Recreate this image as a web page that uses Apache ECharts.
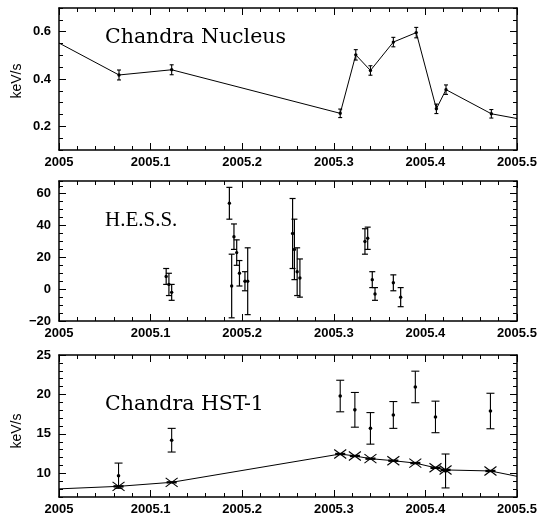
<!DOCTYPE html>
<html>
<head>
<meta charset="utf-8">
<script src="https://cdn.jsdelivr.net/npm/echarts@6/dist/echarts.min.js"></script>
<style>html,body{margin:0;padding:0;background:#fff}#c{width:540px;height:516px}</style>
</head>
<body>
<div id="c"></div>
<script>
// ---------------- DATA ----------------
const xTicksRange = [2005, 2005.5];

// Chandra nucleus (keV/s)
const nucleusTime = [2005.0655, 2005.123, 2005.307, 2005.324, 2005.340, 2005.365, 2005.390, 2005.412, 2005.4225, 2005.472];
const nucleusRate = [0.417, 0.439, 0.255, 0.502, 0.436, 0.556, 0.596, 0.274, 0.355, 0.253];
const nucleusErr  = [0.021, 0.021, 0.018, 0.022, 0.020, 0.020, 0.022, 0.020, 0.020, 0.018];
const nucleusLineStart = [2005.0, 0.552];
const nucleusLineEnd   = [2005.5, 0.233];

// H.E.S.S. fluxes
const hessTime = [2005.117, 2005.120, 2005.123, 2005.186, 2005.1885, 2005.191, 2005.194, 2005.197, 2005.203, 2005.206,
                  2005.255, 2005.257, 2005.260, 2005.263, 2005.334, 2005.337, 2005.342, 2005.345, 2005.365, 2005.373];
const hessFlux = [8, 3, -2, 54, 2, 33, 23, 10, 5, 5, 35, 25, 11, 7, 30, 32, 6, -3, 4, -5];
const hessErr  = [5, 7, 5, 10, 20, 8, 8, 8, 6, 21, 22, 19, 15, 12, 8, 7, 5, 4, 5, 6];

// Chandra HST-1 (keV/s)
const hst1Time = [2005.065, 2005.123, 2005.307, 2005.323, 2005.340, 2005.365, 2005.389, 2005.411, 2005.422, 2005.471];
const hst1Rate = [9.7, 14.2, 19.8, 18.05, 15.7, 17.4, 20.95, 17.15, 10.3, 17.9];
const hst1Err  = [1.6, 1.5, 2.0, 2.2, 2.0, 1.7, 2.0, 2.0, 2.15, 2.25];

// HST-1 lower (X-marked) series
const modelTime = [2005.065, 2005.123, 2005.307, 2005.323, 2005.340, 2005.365, 2005.389, 2005.411, 2005.422, 2005.471];
const modelRate = [8.35, 8.86, 12.45, 12.2, 11.86, 11.6, 11.3, 10.7, 10.43, 10.3];
const modelTimeErr = 0.0055;
const modelLineStart = [2005.0, 8.03];
const modelLineEnd   = [2005.5, 9.62];

// Tick values
const xMajorStep = 0.1, xMinorSplit = 5;
const topY = {min: 0.1, max: 0.7, minor: 0.05, major: [0.2, 0.4, 0.6]};
const midY = {min: -20, max: 68, minor: 5, major: [-20, 0, 20, 40, 60]};
const botY = {min: 7, max: 25, minor: 1, major: [10, 15, 20, 25]};

// ---------------- CHART ----------------
const chart = echarts.init(document.getElementById('c'), null, {renderer: 'canvas'});
const BLACK = '#000';
const labelFont = {fontFamily: '"Liberation Sans", Arial, sans-serif', fontSize: 13, fontWeight: 'bold', color: BLACK};

const grids = [
  {left: 59, right: 23, top: 8, height: 142},
  {left: 59, right: 23, top: 181, height: 140},
  {left: 59, right: 23, top: 355, height: 142}
];

function fmtYear(v) {
  const s = (Math.round(v * 10) / 10).toFixed(1);
  return s.endsWith('.0') ? s.slice(0, -2) : s;
}

const xAxis = [];
grids.forEach((g, gi) => {
  ['bottom', 'top'].forEach(pos => {
    xAxis.push({
      type: 'value', gridIndex: gi, position: pos,
      min: xTicksRange[0], max: xTicksRange[1], interval: xMajorStep,
      axisLine: {show: true, onZero: false, lineStyle: {color: BLACK, width: 1.5}},
      axisTick: {show: true, inside: true, length: 7, lineStyle: {color: BLACK, width: 1}},
      minorTick: {show: true, splitNumber: xMinorSplit, length: 4, lineStyle: {color: BLACK, width: 1}},
      splitLine: {show: false}, minorSplitLine: {show: false},
      axisLabel: Object.assign({show: pos === 'bottom', margin: 6, formatter: fmtYear}, labelFont)
    });
  });
});

const yAxis = [];
const ySpecs = [topY, midY, botY];
function isMajor(v, spec) {
  return spec.major.some(m => Math.abs(m - v) < 1e-6);
}
function fmtY(v, gi) {
  if (!isMajor(v, ySpecs[gi])) return '';
  let s = gi === 0 ? v.toFixed(1) : String(Math.round(v));
  return s.replace('-', '\u2212');
}
// per grid: [left main, left major overlay, right main, right major overlay]
ySpecs.forEach((spec, gi) => {
  ['left', 'right'].forEach(pos => {
    yAxis.push({
      type: 'value', gridIndex: gi, position: pos,
      min: spec.min, max: spec.max, interval: spec.minor,
      axisLine: {show: true, onZero: false, lineStyle: {color: BLACK, width: 1.5}},
      axisTick: {show: true, inside: true, length: 4, lineStyle: {color: BLACK, width: 1}},
      splitLine: {show: false},
      axisLabel: Object.assign({show: pos === 'left', margin: 8, formatter: v => fmtY(v, gi)}, labelFont)
    });
    yAxis.push({
      type: 'value', gridIndex: gi, position: pos,
      min: spec.min, max: spec.max, interval: spec.minor,
      axisLine: {show: false},
      axisTick: {show: true, inside: true, length: 7, customValues: spec.major, lineStyle: {color: BLACK, width: 1}},
      splitLine: {show: false},
      axisLabel: {show: false}
    });
  });
});

function errBarRender(capHalf, dotR, lw) {
  return function (params, api) {
    const x = api.value(0), y = api.value(1), e = api.value(2);
    const c = api.coord([x, y]);
    const t = api.coord([x, y + e]);
    const b = api.coord([x, y - e]);
    const st = {stroke: BLACK, lineWidth: lw};
    return {
      type: 'group',
      children: [
        {type: 'line', shape: {x1: c[0], y1: t[1], x2: c[0], y2: b[1]}, style: st},
        {type: 'line', shape: {x1: c[0] - capHalf, y1: t[1], x2: c[0] + capHalf, y2: t[1]}, style: st},
        {type: 'line', shape: {x1: c[0] - capHalf, y1: b[1], x2: c[0] + capHalf, y2: b[1]}, style: st},
        {type: 'circle', shape: {cx: c[0], cy: c[1], r: dotR}, style: {fill: BLACK}}
      ]
    };
  };
}

function crossRender(params, api) {
  const x = api.value(0), y = api.value(1), ex = api.value(2);
  const c = api.coord([x, y]);
  const l = api.coord([x - ex, y]);
  const r = api.coord([x + ex, y]);
  const st = {stroke: BLACK, lineWidth: 1.1};
  return {
    type: 'group',
    children: [
      {type: 'line', shape: {x1: l[0], y1: c[1], x2: r[0], y2: c[1]}, style: {stroke: BLACK, lineWidth: 2.4}},
      {type: 'line', shape: {x1: c[0] - 6, y1: c[1] - 4.5, x2: c[0] + 6, y2: c[1] + 4.5}, style: st},
      {type: 'line', shape: {x1: c[0] - 6, y1: c[1] + 4.5, x2: c[0] + 6, y2: c[1] - 4.5}, style: st}
    ]
  };
}

const zip = (a, b, c) => a.map((v, i) => c ? [v, b[i], c[i]] : [v, b[i]]);

// yAxis indices: grid gi main-left = gi*4
const series = [
  {
    type: 'line', xAxisIndex: 0, yAxisIndex: 0, showSymbol: false, silent: true,
    lineStyle: {color: BLACK, width: 1},
    data: [nucleusLineStart].concat(zip(nucleusTime, nucleusRate), [nucleusLineEnd])
  },
  {
    type: 'custom', xAxisIndex: 0, yAxisIndex: 0, silent: true,
    renderItem: errBarRender(2, 1.7, 1.1),
    data: zip(nucleusTime, nucleusRate, nucleusErr)
  },
  {
    type: 'custom', xAxisIndex: 2, yAxisIndex: 4, silent: true,
    renderItem: errBarRender(3, 1.7, 1.2),
    data: zip(hessTime, hessFlux, hessErr)
  },
  {
    type: 'line', xAxisIndex: 4, yAxisIndex: 8, showSymbol: false, silent: true,
    lineStyle: {color: BLACK, width: 1},
    data: [modelLineStart].concat(zip(modelTime, modelRate), [modelLineEnd])
  },
  {
    type: 'custom', xAxisIndex: 4, yAxisIndex: 8, silent: true,
    renderItem: crossRender,
    data: modelTime.map((t, i) => [t, modelRate[i], modelTimeErr])
  },
  {
    type: 'custom', xAxisIndex: 4, yAxisIndex: 8, silent: true,
    renderItem: errBarRender(4, 1.8, 1.1),
    data: zip(hst1Time, hst1Rate, hst1Err)
  }
];

const serifFont = '"DejaVu Serif", serif';
const graphic = [
  {type: 'text', x: 105, y: 38, silent: true, style: {text: 'Chandra Nucleus', fontFamily: serifFont, fontSize: 20.5, fill: BLACK, verticalAlign: 'middle'}},
  {type: 'text', x: 105, y: 220, silent: true, style: {text: 'H.E.S.S.', fontFamily: '"Liberation Serif", serif', fontSize: 21, fill: BLACK, verticalAlign: 'middle'}},
  {type: 'text', x: 105, y: 405, silent: true, style: {text: 'Chandra HST-1', fontFamily: serifFont, fontSize: 20.5, fill: BLACK, verticalAlign: 'middle'}},
  {type: 'text', x: 17, y: 81, rotation: Math.PI / 2, silent: true, style: {text: 'keV/s', fontFamily: '"Liberation Sans", sans-serif', fontSize: 14, fill: BLACK, align: 'center', verticalAlign: 'middle'}},
  {type: 'text', x: 17, y: 431, rotation: Math.PI / 2, silent: true, style: {text: 'keV/s', fontFamily: '"Liberation Sans", sans-serif', fontSize: 14, fill: BLACK, align: 'center', verticalAlign: 'middle'}}
];

chart.setOption({
  animation: false,
  backgroundColor: '#fff',
  grid: grids,
  xAxis: xAxis,
  yAxis: yAxis,
  series: series,
  graphic: graphic
});
</script>
</body>
</html>
